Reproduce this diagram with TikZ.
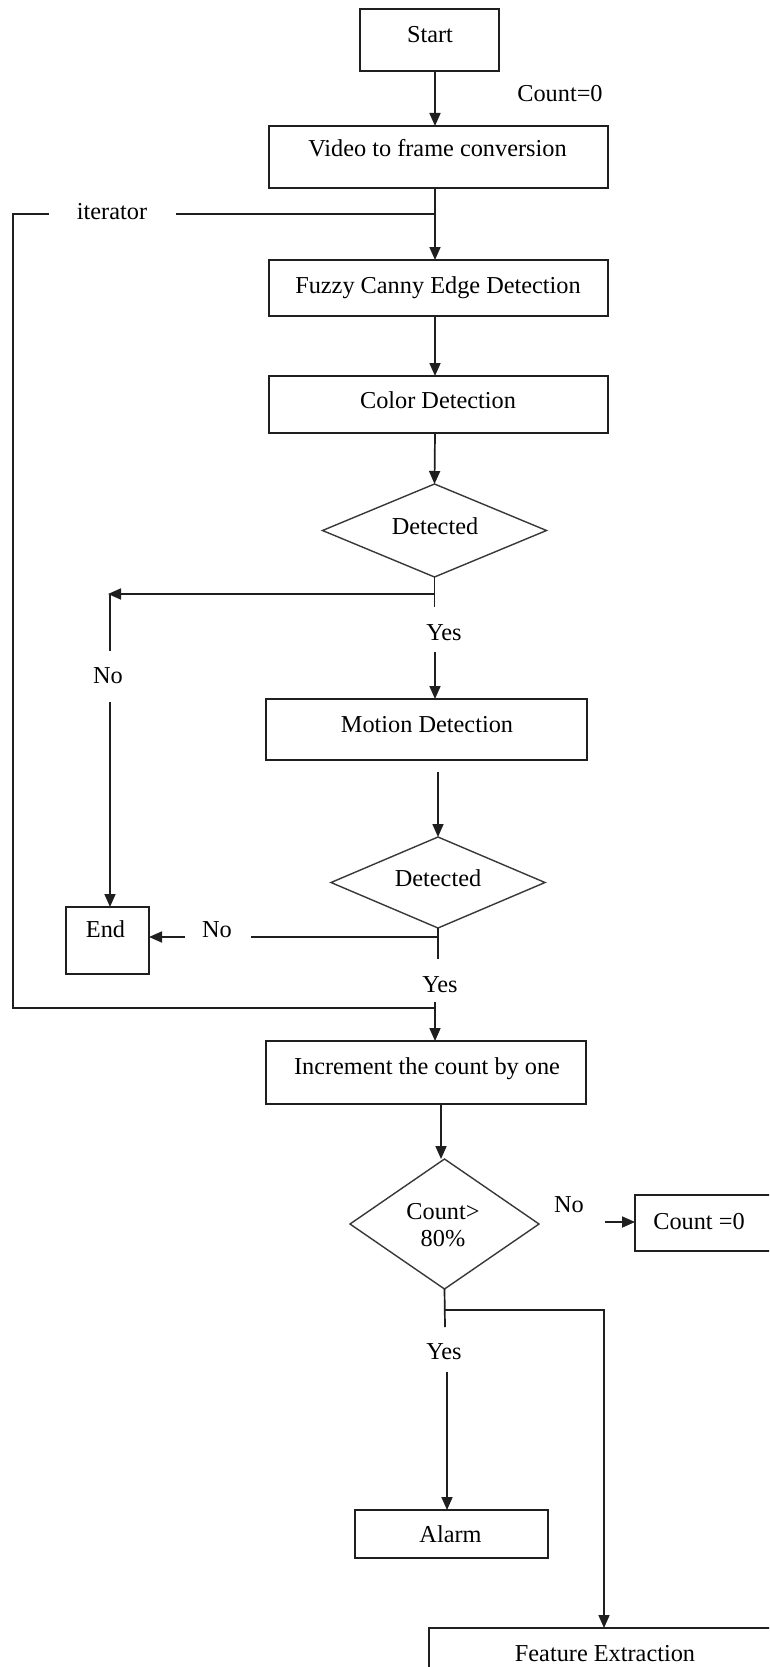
\documentclass[tikz,border=0pt]{standalone}
\usepackage{fontspec}
\setmainfont{Liberation Serif}
\usetikzlibrary{arrows.meta,shapes.geometric}
\begin{document}
\begin{tikzpicture}[x=1pt,y=-1pt,
  box/.style={draw=black!88, line width=1.7pt, inner sep=0pt, outer sep=0pt},
  dia/.style={draw=black!78, line width=1.4pt, diamond, inner sep=0pt, outer sep=0pt},
  txt/.style={inner sep=0pt, font=\fontsize{24.3}{29}\selectfont, text height=0.66em, text depth=0.22em, yshift=-4pt},
  ln/.style={draw=black!88, line width=1.7pt},
  arr/.style={ln, -{Triangle[length=13pt,width=11pt]}}]
\useasboundingbox (0,0) rectangle (769,1667);
\clip (0,0) rectangle (769,1667);
\fill[white] (0,0) rectangle (769,1667);

% boxes
\node[box, minimum width=139pt, minimum height=62pt] (start) at (429.5,40) {};
\node[box, minimum width=339pt, minimum height=62pt] (video) at (438.5,157) {};
\node[box, minimum width=339pt, minimum height=56pt] (fuzzy) at (438.5,288) {};
\node[box, minimum width=339pt, minimum height=57pt] (color) at (438.5,404.5) {};
\node[dia, minimum width=224pt, minimum height=93pt] (d1) at (434.5,530.5) {};
\node[box, minimum width=321pt, minimum height=61pt] (motion) at (426.5,729.5) {};
\node[dia, minimum width=214pt, minimum height=91pt] (d2) at (438,882.5) {};
\node[box, minimum width=83pt, minimum height=67pt] (end) at (107.5,940.5) {};
\node[box, minimum width=320pt, minimum height=63pt] (incr) at (426,1072.5) {};
\node[dia, minimum width=189pt, minimum height=130pt] (d3) at (444.5,1224) {};
\node[box, minimum width=165pt, minimum height=56pt] (cbox) at (717.5,1223) {};
\node[box, minimum width=193pt, minimum height=48pt] (alarm) at (451.5,1534) {};
\node[box, minimum width=371pt, minimum height=72pt] (feature) at (614.5,1664) {};

% texts
\node[txt] (tstart) at (430,36) {Start};
\node[txt] (tcount) at (560,95) {Count=0};
\node[txt] (tvideo) at (437.5,150) {Video to frame conversion};
\node[txt] (titer) at (112,213) {iterator};
\node[txt] (tfuzzy) at (438,287) {Fuzzy Canny Edge Detection};
\node[txt] (tcolor) at (438,402) {Color Detection};
\node[txt] (tdet1) at (435,528) {Detected};
\node[txt] (tyes1) at (444,634) {Yes};
\node[txt] (tno1) at (108,677) {No};
\node[txt] (tmotion) at (427,726) {Motion Detection};
\node[txt] (tdet2) at (438,880) {Detected};
\node[txt] (tend) at (105.5,931) {End};
\node[txt] (tno2) at (217,931) {No};
\node[txt] (tyes2) at (440,986) {Yes};
\node[txt] (tincr) at (427,1068) {Increment the count by one};
\node[txt] (tc1) at (443,1213) {Count>};
\node[txt] (tc2) at (443,1240) {80\%};
\node[txt] (tno3) at (569,1206) {No};
\node[txt] (tcz) at (699,1223) {Count =0};
\node[txt] (tyes3) at (444,1353) {Yes};
\node[txt] (talarm) at (450.5,1536) {Alarm};
\node[txt] (tfeat) at (605,1655) {Feature Extraction};

% coordinates
\coordinate (itA) at (49,214);
\coordinate (itB) at (13,214);
\coordinate (itC) at (13,1008);
\coordinate (itD) at (435,1008);
\coordinate (itE) at (176,214);
\coordinate (itF) at (435,214);
\coordinate (n1a) at (434.5,594);
\coordinate (n1b) at (108,594);
\coordinate (n1v) at (110,594);
\coordinate (n1c) at (110,651);
\coordinate (n1d) at (110,702);
\coordinate (y1a) at (434.5,607);
\coordinate (y1b) at (435,652);
\coordinate (n2a) at (438,937);
\coordinate (n2b) at (251,937);
\coordinate (n2c) at (185,937);
\coordinate (y2a) at (438,959);
\coordinate (y2b) at (435,1002);
\coordinate (i3) at (441,1104);
\coordinate (n3a) at (605,1222);
\coordinate (y3a) at (445,1327);
\coordinate (b3a) at (445,1310);
\coordinate (b3b) at (604,1310);
\coordinate (y3b) at (447,1372);

% connectors
\draw[arr] ([xshift=5.5pt]start.south) -- ([xshift=-3.5pt]video.north);
\draw[arr] ([xshift=-3.5pt]video.south) -- ([xshift=-3.5pt]fuzzy.north);
\draw[ln] (itA) -- (itB) -- (itC) -- (itD);
\draw[ln] (itE) -- (itF);
\draw[arr] ([xshift=-3.5pt]fuzzy.south) -- ([xshift=-3.5pt]color.north);
\draw[arr] ([xshift=-3.5pt]color.south) -- (d1.north);
\draw[arr] (d1.south) -- (n1a) -- (n1b);
\draw[ln] (n1v) -- (n1c);
\draw[arr] (n1d) -- (n1d |- end.north);
\draw[ln] (d1.south) -- (y1a);
\draw[arr] (y1b) -- (y1b |- motion.north);
\draw[arr] ([xshift=11.5pt,yshift=-12pt]motion.south) -- (d2.north);
\draw[ln] (d2.south) -- (y2a);
\draw[ln] (n2a) -- (n2b);
\draw[arr] (n2c) -- (n2c -| end.east);
\draw[arr] (y2b) -- (y2b |- incr.north);
\draw[arr] (i3) -- (i3 |- d3.north);
\draw[arr] (n3a) -- (n3a -| cbox.west);
\draw[ln] (d3.south) -- (y3a);
\draw[arr] (b3a) -- (b3b) -- (b3b |- feature.north);
\draw[arr] (y3b) -- (y3b |- alarm.north);
\end{tikzpicture}
\end{document}
